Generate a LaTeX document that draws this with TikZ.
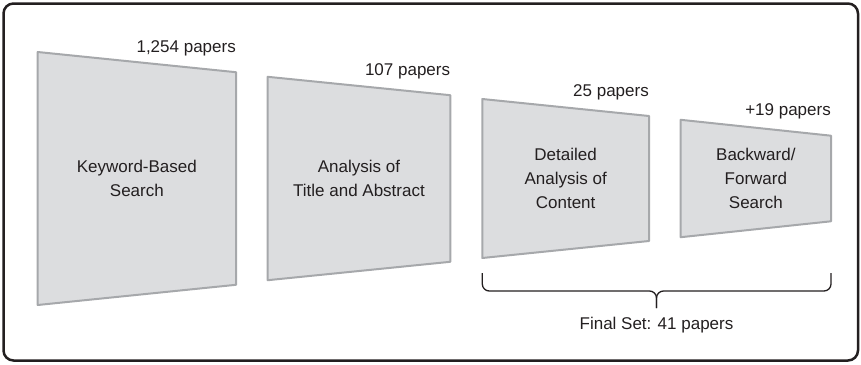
\documentclass[tikz,border=0pt]{standalone}
\usepackage{fontspec}
\setmainfont{Liberation Sans}
\usetikzlibrary{positioning,calc}
\definecolor{stagefill}{RGB}{220,221,223}
\definecolor{stageline}{RGB}{166,168,171}
\definecolor{inkgray}{RGB}{35,31,32}
\newcommand \mydrawstage[7]
{
\coordinate (#1-tl) at (#2,{178.5-#4});                 % top left
\coordinate (#1-bl) at (#2,{178.5+#4});                 % bottom left
\coordinate (#1-tr) at (#3,{178.5-#5});                 % top right
\coordinate (#1-br) at (#3,{178.5+#5});                 % bottom right
\draw[stage] (#1-tl)--(#1-tr)--(#1-br)--(#1-bl)--cycle;
\node[stagetext] (#1) at ({(#2+#3)/2},178.5) {#6};
\node[countlabel] (#1-n) at ($(#1-tr)+(0,-20)$) {#7};   % count above the right edge
}

\begin{document}
\begin{tikzpicture}[x=1pt, y=-1pt, line join=round,
  stage/.style={fill=stagefill, draw=stageline, line width=2pt},
  stagetext/.style={align=center, text=inkgray, font=\fontsize{17}{24}\selectfont},
  countlabel/.style={anchor=base east, inner sep=0pt, text=inkgray, font=\fontsize{17}{24}\selectfont},
  bracket/.style={draw=inkgray, line width=1.3pt, rounded corners=7pt}]
\useasboundingbox (0,0) rectangle (861,364);
\draw[line width=2.5pt, rounded corners=10pt, draw=inkgray] (3.5,3.5) rectangle (858,360.5);
\mydrawstage{keyword}{37.7}{236}{126.5}{106.3}{Keyword-Based\\Search}{1,254 papers}
\mydrawstage{title}{267.7}{450.3}{101.7}{83.3}{Analysis of\\Title and Abstract}{107 papers}
\mydrawstage{detail}{482.3}{649}{79.5}{62.5}{Detailed\\Analysis of\\Content}{25 papers}
\mydrawstage{snowball}{680.7}{831}{58.7}{42.8}{Backward/\\Forward\\Search}{+19 papers}
% bracket under the last two stages
\coordinate (braceL) at (detail-bl |- 0,273);
\coordinate (braceR) at (snowball-br |- 0,273);
\coordinate (braceMid) at (656.5,291);
\coordinate (braceTip) at (656.5,308);
\draw[bracket] (braceL) |- (braceMid) -- (braceTip);
\draw[bracket] (braceR) |- (braceMid) -- (braceTip);
\node[stagetext] (final) at (656.5,325) {Final Set: 41 papers};
\end{tikzpicture}
\end{document}
